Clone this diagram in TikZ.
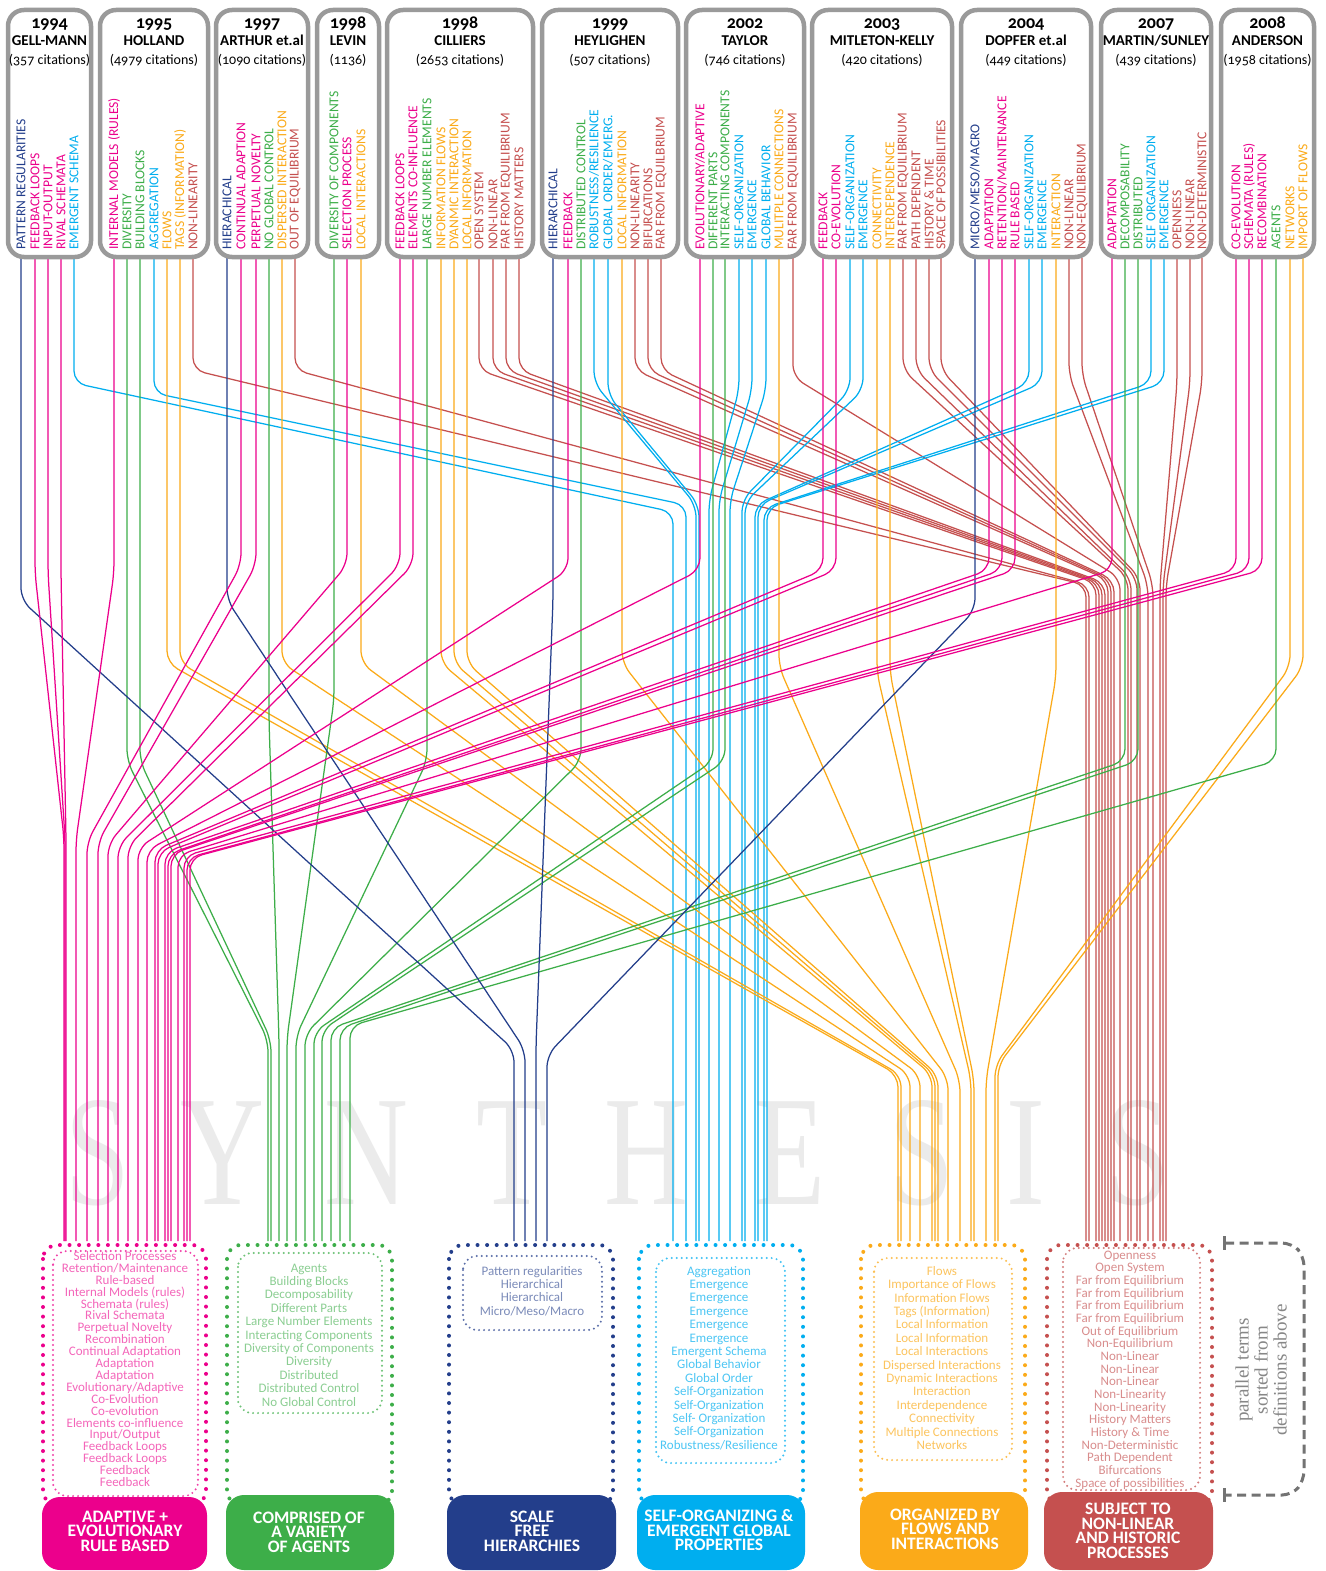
\documentclass[tikz,border=0pt]{standalone}
\usepackage{fontspec}
\setmainfont{Carlito}[Numbers=OldStyle]
\newfontfamily\wmfont{Liberation Serif}
\definecolor{cnavy}{HTML}{233E8B}
\definecolor{cpink}{HTML}{EC008C}
\definecolor{cgreen}{HTML}{3DAE49}
\definecolor{ccyan}{HTML}{00AEEF}
\definecolor{corange}{HTML}{FBAA19}
\definecolor{cred}{HTML}{C5504F}
\definecolor{hgray}{HTML}{9A9A9A}
\newcommand\tightfont[2]{\fontsize{#1}{#2}\selectfont\lineskiplimit=-40pt\lineskip=0pt}
\tikzset{
  hbox/.style={draw=hgray, line width=4.5pt, rounded corners=16pt},
  conn/.style={line width=1.25pt, rounded corners=12pt},
  termtxt/.style={rotate=90, anchor=west, inner sep=0pt, font=\fontsize{13.6}{13.6}\selectfont},
  yeartxt/.style={anchor=base, inner sep=0pt, font=\bfseries\fontsize{18}{18}\selectfont},
  nametxt/.style={anchor=base, inner sep=0pt, font=\bfseries\fontsize{15}{15}\selectfont},
  cittxt/.style={anchor=base, inner sep=0pt, font=\fontsize{14}{14}\selectfont},
  outerdot/.style={line width=4pt, line cap=round, dash pattern=on 0pt off 9.6pt, rounded corners=14pt},
  innerdot/.style={line width=2.2pt, line cap=round, dash pattern=on 0pt off 5pt, rounded corners=14pt},
  labelbox/.style={rounded corners=18pt},
  labeltxt/.style={text=white, align=center, inner sep=0pt, font=\bfseries\tightfont{17.5}{14.6}},
  listtxt/.style={align=center, inner sep=0pt},
  wm/.style={font=\wmfont\fontsize{157}{157}\selectfont, text=black!8, anchor=base, inner sep=0pt, xscale=0.74},
}
\newcounter{tn}
\newcounter{hn}
\newcommand\term[3]{\stepcounter{tn}\node[termtxt,text=#2] (t\arabic{tn}) at (#1,250) {#3};}
\newcommand\cn[5]{\draw[conn,draw=#1] (#2,258) -- (#2,#3) -- (#4,#5) -- (#4,1241);}
\newcommand\hdr[5]{\stepcounter{hn}%
  \draw[hbox] (#1,10) rectangle (#2,257);
  \node[yeartxt] (hy\arabic{hn}) at ({(#1+#2)/2},29) {#3};
  \node[nametxt] (hn\arabic{hn}) at ({(#1+#2)/2},46) {#4};
  \node[cittxt] (hc\arabic{hn}) at ({(#1+#2)/2},64) {#5};}
\begin{document}
\begin{tikzpicture}[x=1pt,y=-1pt]
\useasboundingbox (0,0) rectangle (1325,1571);
\fill[white] (0,0) rectangle (1325,1571);
% watermark
\node[wm] (w1) at (98,1204) {S};
\node[wm] (w2) at (222,1204) {Y};
\node[wm] (w3) at (366,1204) {N};
\node[wm] (w4) at (512,1204) {T};
\node[wm] (w5) at (646,1204) {H};
\node[wm] (w6) at (790,1204) {E};
\node[wm] (w7) at (922,1204) {S};
\node[wm] (w8) at (1026,1204) {I};
\node[wm] (w9) at (1138,1204) {S};
% red connectors
\cn{cred}{193}{370}{1086}{585}
\cn{cred}{295}{370}{1089}{585}
\cn{cred}{479}{370}{1096}{583}
\cn{cred}{493}{370}{1099}{583}
\cn{cred}{506}{370}{1102}{583}
\cn{cred}{519}{370}{1105}{583}
\cn{cred}{635}{370}{1108}{580}
\cn{cred}{648}{370}{1111}{580}
\cn{cred}{661}{370}{1114}{580}
\cn{cred}{793}{377}{1120}{578}
\cn{cred}{903}{370}{1128}{578}
\cn{cred}{916}{370}{1131}{578}
\cn{cred}{929}{370}{1137}{578}
\cn{cred}{941}{370}{1140}{578}
\cn{cred}{1069}{375}{1148}{585}
\cn{cred}{1082}{375}{1153}{585}
\cn{cred}{1177}{383}{1160}{585}
\cn{cred}{1190}{383}{1163}{585}
\cn{cred}{1202}{383}{1166}{585}
% cyan
\cn{ccyan}{74}{383}{673}{512}
\cn{ccyan}{154}{393}{686}{505}
\cn{ccyan}{594}{383}{696}{505}
\cn{ccyan}{608}{395}{699}{505}
\cn{ccyan}{739}{390}{709}{500}
\cn{ccyan}{752}{390}{719}{500}
\cn{ccyan}{766}{390}{730}{500}
\cn{ccyan}{850}{390}{742}{500}
\cn{ccyan}{863}{390}{745}{502}
\cn{ccyan}{1029}{383}{755}{505}
\cn{ccyan}{1042}{383}{758}{505}
\cn{ccyan}{1151}{383}{764}{508}
\cn{ccyan}{1164}{383}{767}{508}
% orange
\cn{corange}{167}{663}{898}{1075}
\cn{corange}{180}{663}{901}{1075}
\cn{corange}{282}{663}{910}{1075}
\cn{corange}{361}{663}{920}{1075}
\cn{corange}{441}{663}{932}{1075}
\cn{corange}{454}{663}{935}{1075}
\cn{corange}{467}{663}{938}{1075}
\cn{corange}{622}{663}{948}{1078}
\cn{corange}{779}{667}{960}{1080}
\cn{corange}{877}{673}{971}{1080}
\cn{corange}{890}{673}{974}{1080}
\cn{corange}{1056}{677}{986}{1080}
\cn{corange}{1290}{667}{995}{1065}
\cn{corange}{1303}{667}{998}{1065}
% green
\cn{cgreen}{127}{761}{268}{1040}
\cn{cgreen}{140}{761}{271}{1040}
\cn{cgreen}{269}{720}{279}{1040}
\cn{cgreen}{334}{700}{287}{1038}
\cn{cgreen}{427}{761}{296}{1036}
\cn{cgreen}{581}{761}{305}{1034}
\cn{cgreen}{713}{761}{314}{1032}
\cn{cgreen}{725}{761}{322}{1030}
\cn{cgreen}{1125}{761}{331}{1028}
\cn{cgreen}{1138}{761}{340}{1028}
\cn{cgreen}{1276}{761}{350}{1026}
% navy
\cn{cnavy}{21}{600}{514}{1050}
\cn{cnavy}{227}{600}{525}{1050}
\cn{cnavy}{553}{600}{536}{1045}
\cn{cnavy}{975}{610}{547}{1055}
% pink
\cn{cpink}{35}{573}{64}{838}
\cn{cpink}{48}{573}{65}{838}
\cn{cpink}{61}{573}{66}{838}
\cn{cpink}{114}{573}{76}{840}
\cn{cpink}{241}{565}{87}{842}
\cn{cpink}{256}{565}{98}{842}
\cn{cpink}{347}{565}{108}{844}
\cn{cpink}{400}{565}{118}{846}
\cn{cpink}{413}{565}{128}{846}
\cn{cpink}{568}{570}{138}{848}
\cn{cpink}{700}{570}{147}{850}
\cn{cpink}{823}{570}{155}{850}
\cn{cpink}{836}{570}{158}{852}
\cn{cpink}{989}{570}{165}{852}
\cn{cpink}{1002}{570}{168}{854}
\cn{cpink}{1015}{570}{171}{854}
\cn{cpink}{1112}{570}{178}{855}
\cn{cpink}{1236}{570}{184}{856}
\cn{cpink}{1249}{570}{187}{858}
\cn{cpink}{1262}{570}{190}{858}
% header boxes
\hdr{8}{91}{1994}{GELL-MANN}{(357 citations)}
\hdr{100}{208}{1995}{HOLLAND}{(4979 citations)}
\hdr{216}{308}{1997}{ARTHUR et.al}{(1090 citations)}
\hdr{317}{379}{1998}{LEVIN}{(1136)}
\hdr{387}{533}{1998}{CILLIERS}{(2653 citations)}
\hdr{542}{678}{1999}{HEYLIGHEN}{(507 citations)}
\hdr{686}{804}{2002}{TAYLOR}{(746 citations)}
\hdr{812}{952}{2003}{MITLETON-KELLY}{(420 citations)}
\hdr{961}{1091}{2004}{DOPFER et.al}{(449 citations)}
\hdr{1101}{1211}{2007}{MARTIN/SUNLEY}{(439 citations)}
\hdr{1221}{1314}{2008}{ANDERSON}{(1958 citations)}
% terms
\term{21}{cnavy}{PATTERN REGULARITIES}
\term{35}{cpink}{FEEDBACK LOOPS}
\term{48}{cpink}{INPUT-OUTPUT}
\term{61}{cpink}{RIVAL SCHEMATA}
\term{74}{ccyan}{EMERGENT SCHEMA}
\term{114}{cpink}{INTERNAL MODELS (RULES)}
\term{127}{cgreen}{DIVERSITY}
\term{140}{cgreen}{BUILDING BLOCKS}
\term{154}{ccyan}{AGGREGATION}
\term{167}{corange}{FLOWS}
\term{180}{corange}{TAGS (INFORMATION)}
\term{193}{cred}{NON-LINEARITY}
\term{227}{cnavy}{HIERACHICAL}
\term{241}{cpink}{CONTINUAL ADAPTION}
\term{256}{cpink}{PERPETUAL NOVELTY}
\term{269}{cgreen}{NO GLOBAL CONTROL}
\term{282}{corange}{DISPERSED INTERACTION}
\term{295}{cred}{OUT OF EQUILIBRIUM}
\term{334}{cgreen}{DIVERSITY OF COMPONENTS}
\term{347}{cpink}{SELECTION PROCESS}
\term{361}{corange}{LOCAL INTERACTIONS}
\term{400}{cpink}{FEEDBACK LOOPS}
\term{413}{cpink}{ELEMENTS CO-INFLUENCE}
\term{427}{cgreen}{LARGE NUMBER ELEMENTS}
\term{441}{corange}{INFORMATION FLOWS}
\term{454}{corange}{DYANMIC INTERACTION}
\term{467}{corange}{LOCAL INFORMATION}
\term{479}{cred}{OPEN SYSTEM}
\term{493}{cred}{NON-LINEAR}
\term{506}{cred}{FAR FROM EQUILIBRIUM}
\term{519}{cred}{HISTORY MATTERS}
\term{553}{cnavy}{HIERARCHICAL}
\term{568}{cpink}{FEEDBACK}
\term{581}{cgreen}{DISTRIBUTED CONTROL}
\term{594}{ccyan}{ROBUSTNESS/RESILIENCE}
\term{608}{ccyan}{GLOBAL ORDER/EMERG.}
\term{622}{corange}{LOCAL INFORMATION}
\term{635}{cred}{NON-LINEARITY}
\term{648}{cred}{BIFURCATIONS}
\term{661}{cred}{FAR FROM EQUILBRIUM}
\term{700}{cpink}{EVOLUTIONARY/ADAPTIVE}
\term{713}{cgreen}{DIFFERENT PARTS}
\term{725}{cgreen}{INTERACTING COMPONENTS}
\term{739}{ccyan}{SELF-ORGANIZATION}
\term{752}{ccyan}{EMERGENCE}
\term{766}{ccyan}{GLOBAL BEHAVIOR}
\term{779}{corange}{MULITPLE CONNECTIONS}
\term{793}{cred}{FAR FROM EQUILIBRIUM}
\term{823}{cpink}{FEEDBACK}
\term{836}{cpink}{CO-EVOLUTION}
\term{850}{ccyan}{SELF-ORGANIZATION}
\term{863}{ccyan}{EMERGENCE}
\term{877}{corange}{CONNECTIVITY}
\term{890}{corange}{INTERDEPENDENCE}
\term{903}{cred}{FAR FROM EQUILIBRIUM}
\term{916}{cred}{PATH DEPENDENT}
\term{929}{cred}{HISTORY \& TIME}
\term{941}{cred}{SPACE OF POSSIBILITIES}
\term{975}{cnavy}{MICRO/MESO/MACRO}
\term{989}{cpink}{ADAPTATION}
\term{1002}{cpink}{RETENTION/MAINTENANCE}
\term{1015}{cpink}{RULE BASED}
\term{1029}{ccyan}{SELF-ORGANIZATION}
\term{1042}{ccyan}{EMERGENCE}
\term{1056}{corange}{INTERACTION}
\term{1069}{cred}{NON-LINEAR}
\term{1082}{cred}{NON-EQUILIBRIUM}
\term{1112}{cpink}{ADAPTATION}
\term{1125}{cgreen}{DECOMPOSABILITY}
\term{1138}{cgreen}{DISTRIBUTED}
\term{1151}{ccyan}{SELF ORGANIZATION}
\term{1164}{ccyan}{EMERGENCE}
\term{1177}{cred}{OPENNESS}
\term{1190}{cred}{NON-LINEAR}
\term{1202}{cred}{NON-DETERMINISTIC}
\term{1236}{cpink}{CO-EVOLUTION}
\term{1249}{cpink}{SCHEMATA (RULES)}
\term{1262}{cpink}{RECOMBINATION}
\term{1276}{cgreen}{AGENTS}
\term{1290}{corange}{NETWORKS}
\term{1303}{corange}{IMPORT OF FLOWS}
% bottom groups: pink
\draw[outerdot,draw=cpink] (43,1245) rectangle (206,1505);
\draw[innerdot,draw=cpink!75] (53,1251) rectangle (198,1496);
\node[listtxt,text=cpink!60,font=\tightfont{13}{11.9}] (lp) at (125,1369) {Selection Processes\\Retention/Maintenance\\Rule-based\\Internal Models (rules)\\Schemata (rules)\\Rival Schemata\\Perpetual Novelty\\Recombination\\Continual Adaptation\\Adaptation\\Adaptation\\Evolutionary/Adaptive\\Co-Evolution\\Co-evolution\\Elements co-influence\\Input/Output\\Feedback Loops\\Feedback Loops\\Feedback\\Feedback};
\fill[labelbox,cpink] (42,1497) rectangle (207,1570);
\node[labeltxt] (gp) at (125,1531) {ADAPTIVE +\\EVOLUTIONARY\\RULE BASED};
% green
\draw[outerdot,draw=cgreen] (227,1245) rectangle (392,1505);
\draw[innerdot,draw=cgreen!75] (238,1253) rectangle (382,1413);
\node[listtxt,text=cgreen!60,font=\tightfont{13}{13.4}] (lg) at (309,1335) {Agents\\Building Blocks\\Decomposability\\Different Parts\\Large Number Elements\\Interacting Components\\Diversity of Components\\Diversity\\Distributed\\Distributed Control\\No Global Control};
\fill[labelbox,cgreen] (226,1495) rectangle (394,1570);
\node[labeltxt] (gg) at (309,1532) {COMPRISED OF\\A VARIETY\\OF AGENTS};
% navy
\draw[outerdot,draw=cnavy] (449,1245) rectangle (613,1505);
\draw[innerdot,draw=cnavy!75] (463,1256) rectangle (602,1330);
\node[listtxt,text=cnavy!60,font=\tightfont{13}{13.3}] (ln) at (532,1291) {Pattern regularities\\Hierarchical\\Hierarchical\\Micro/Meso/Macro};
\fill[labelbox,cnavy] (447,1495) rectangle (616,1570);
\node[labeltxt] (gn) at (532,1531) {SCALE\\FREE\\HIERARCHIES};
% cyan
\draw[outerdot,draw=ccyan] (639,1245) rectangle (803,1505);
\draw[innerdot,draw=ccyan!75] (656,1258) rectangle (785,1463);
\node[listtxt,text=ccyan!70,font=\tightfont{13}{13.4}] (lc) at (719,1358) {Aggregation\\Emergence\\Emergence\\Emergence\\Emergence\\Emergence\\Emergent Schema\\Global Behavior\\Global Order\\Self-Organization\\Self-Organization\\Self- Organization\\Self-Organization\\Robustness/Resilience};
\fill[labelbox,ccyan] (637,1495) rectangle (805,1570);
\node[labeltxt] (gc) at (719,1530) {SELF-ORGANIZING \&\\EMERGENT GLOBAL\\PROPERTIES};
% orange
\draw[outerdot,draw=corange] (861,1245) rectangle (1025,1505);
\draw[innerdot,draw=corange!75] (874,1258) rectangle (1012,1460);
\node[listtxt,text=corange!70,font=\tightfont{13}{13.4}] (lo) at (942,1358) {Flows\\Importance of Flows\\Information Flows\\Tags (Information)\\Local Information\\Local Information\\Local Interactions\\Dispersed Interactions\\Dynamic Interactions\\Interaction\\Interdependence\\Connectivity\\Multiple Connections\\Networks};
\fill[labelbox,corange] (860,1492) rectangle (1028,1570);
\node[labeltxt] (go) at (945,1529) {ORGANIZED BY\\FLOWS AND\\INTERACTIONS};
% red
\draw[outerdot,draw=cred] (1047,1245) rectangle (1212,1505);
\draw[innerdot,draw=cred!75] (1063,1248) rectangle (1200,1490);
\node[listtxt,text=cred!65,font=\tightfont{13}{12.67}] (lr) at (1130,1370) {Openness\\Open System\\Far from Equilibrium\\Far from Equilibrium\\Far from Equilibrium\\Far from Equilibrium\\Out of Equilibrium\\Non-Equilibrium\\Non-Linear\\Non-Linear\\Non-Linear\\Non-Linearity\\Non-Linearity\\History Matters\\History \& Time\\Non-Deterministic\\Path Dependent\\Bifurcations\\Space of possibilities};
\fill[labelbox,cred] (1044,1492) rectangle (1213,1570);
\node[labeltxt] (gr) at (1128,1531) {SUBJECT TO\\NON-LINEAR\\AND HISTORIC\\PROCESSES};
% bracket
\draw[black!55, line width=3pt, dash pattern=on 9pt off 5.5pt, rounded corners=10pt] (1225,1243) -- (1292,1243) -- (1304,1256) -- (1304,1481) -- (1292,1495) -- (1225,1495);
\draw[black!55, line width=3pt] (1224,1236) -- (1224,1250) (1224,1488) -- (1224,1502);
\node[rotate=90, align=center, inner sep=0pt, text=black!47, font=\wmfont\tightfont{19}{19}] (note) at (1261,1370) {parallel terms\\sorted from\\definitions above};
\end{tikzpicture}
\end{document}
